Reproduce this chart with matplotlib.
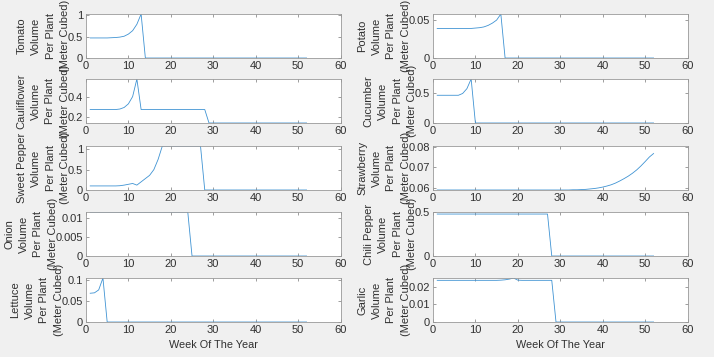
import numpy as np
import matplotlib.pyplot as plt
from matplotlib.ticker import FormatStrFormatter

plt.rcParams['font.family'] = ['Liberation Sans', 'DejaVu Sans']

# weeks of the year
weeks = np.arange(1, 53)

# volume per plant (meter cubed)
tomato = [0.47] * 5 + [0.475, 0.48, 0.49, 0.51, 0.56, 0.64, 0.79, 1.03] + [0.0] * 39
potato = [0.039] * 9 + [0.0395, 0.040, 0.041, 0.043, 0.046, 0.050, 0.058] + [0.0] * 36
cauliflower = [0.275] * 7 + [0.28, 0.295, 0.33, 0.40, 0.57] + [0.275] * 16 + [0.145] * 24
cucumber = [0.46] * 6 + [0.49, 0.57, 0.73] + [0.0] * 43
sweet_pepper = ([0.10] * 7 + [0.105, 0.12, 0.14, 0.16, 0.12, 0.20, 0.28, 0.36, 0.50, 0.75]
                + [1.08] * 10 + [0.0] * 25)
strawberry = ([0.0592] * 31 + [0.0592, 0.0593, 0.0593, 0.0594, 0.0595, 0.0597, 0.0599, 0.0602,
                               0.0606, 0.0611, 0.0617, 0.0625, 0.0635, 0.0646, 0.0658, 0.0672,
                               0.0688, 0.0707, 0.0728, 0.0750, 0.0767])
onion = [0.0116] * 24 + [0.0] * 28
chili_pepper = [0.477] * 27 + [0.0] * 25
lettuce = [0.069, 0.070, 0.077, 0.1055] + [0.0] * 48
garlic = [0.0235] * 15 + [0.0236, 0.0238, 0.0242, 0.0248, 0.0236] + [0.0235] * 8 + [0.0] * 24

crops = ['Tomato', 'Potato', 'Cauliflower', 'Cucumber', 'Sweet Pepper',
         'Strawberry', 'Onion', 'Chili Pepper', 'Lettuce', 'Garlic']
series = [tomato, potato, cauliflower, cucumber, sweet_pepper,
          strawberry, onion, chili_pepper, lettuce, garlic]

# axis limits and ticks for each panel
ylims = [(0, 1.03), (0, 0.058), (0.145, 0.57), (0, 0.73), (0, 1.08),
         (0.0592, 0.0803), (0, 0.0116), (0, 0.5), (0, 0.1055), (0, 0.0248)]
yticks = [[0, 0.5, 1], [0, 0.05], [0.2, 0.4], [0, 0.5], [0, 0.5, 1],
          [0.06, 0.07, 0.08], [0, 0.005, 0.01], [0, 0.5], [0, 0.05, 0.1], [0, 0.01, 0.02]]

fig = plt.figure(figsize=(7.14, 3.57), dpi=100)
fig.patch.set_facecolor('#f0f0f0')

lefts = [0.1204, 0.6064]
width = 0.3565
bottoms = [0.8375, 0.6555, 0.4678, 0.2829, 0.098]
height = 0.1232

text_color = '#303030'
for i, (name, vals) in enumerate(zip(crops, series)):
    row, col = divmod(i, 2)
    ax = fig.add_axes([lefts[col], bottoms[row], width, height])
    ax.plot(weeks, vals, color='#3f93d3', linewidth=0.6)
    ax.set_xlim(0, 60)
    ax.set_ylim(*ylims[i])
    ax.set_xticks([0, 10, 20, 30, 40, 50, 60])
    ax.set_yticks(yticks[i])
    ax.yaxis.set_major_formatter(FormatStrFormatter('%g'))
    ax.tick_params(direction='in', length=2.5, width=0.5, top=True, right=True,
                   labelsize=8, labelcolor=text_color, color='#777777', pad=2)
    for sp in ax.spines.values():
        sp.set_color('#999999')
        sp.set_linewidth(0.6)
    ax.set_ylabel(f'{name}\nVolume\nPer Plant\n(Meter Cubed)', fontsize=8,
                  linespacing=1.56, color=text_color, labelpad=-1.5)
    if row == 4:
        ax.set_xlabel('Week Of The Year', fontsize=7.8, color=text_color, labelpad=4)

plt.savefig('out.png', dpi=100, facecolor=fig.get_facecolor())
